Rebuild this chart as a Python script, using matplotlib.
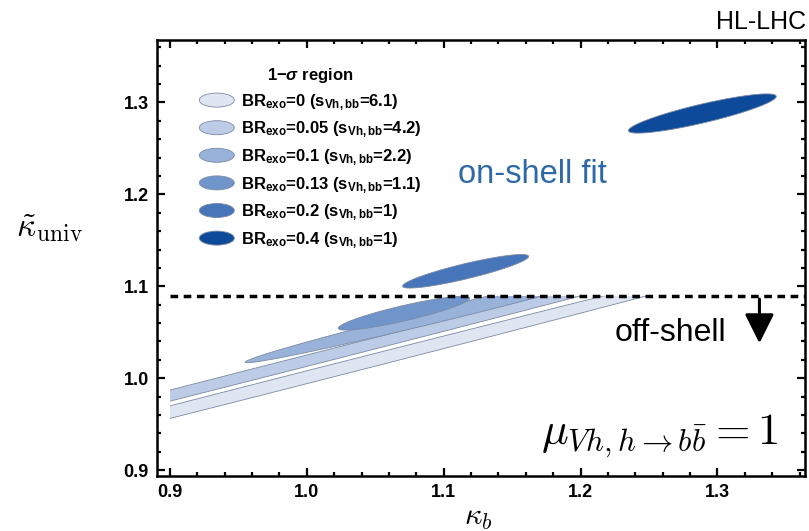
import numpy as np
import matplotlib
matplotlib.use("Agg")
import matplotlib.pyplot as plt
from matplotlib.patches import Ellipse, Patch, Rectangle
from matplotlib.legend_handler import HandlerPatch

plt.rcParams['font.family'] = 'Liberation Sans'
plt.rcParams['mathtext.fontset'] = 'custom'
plt.rcParams['mathtext.rm'] = 'Liberation Sans:bold'
plt.rcParams['mathtext.bf'] = 'Liberation Sans:bold'
plt.rcParams['mathtext.it'] = 'Liberation Sans:italic:bold'

# 1-sigma regions (sheared ellipses in the kappa_b / kappa_univ plane)
br_exo = ['0', '0.05', '0.1', '0.13', '0.2', '0.4']
s_vhbb = ['6.1', '4.2', '2.2', '1.1', '1', '1']
center_kb = [1.0, 1.0, 1.10, 1.071, 1.116, 1.289]
center_ku = [1.001, 1.019, 1.070, 1.0707, 1.1163, 1.288]
half_len = [0.45, 0.45, 0.145, 0.048, 0.046, 0.054]
slope = [0.38, 0.38, 0.363, 0.34, 0.351, 0.344]
half_thick = [0.007, 0.0062, 0.0078, 0.0085, 0.0085, 0.0105]
cut_offshell = [True, True, True, True, False, False]
colors = ['#dfe6f2', '#bccce6', '#98b2da', '#6f95cb', '#4775ba', '#0d4a9a']

offshell_line = 1.089
kb_min = 0.9


class HandlerEllipse(HandlerPatch):
    def create_artists(self, legend, orig_handle, xdescent, ydescent,
                       width, height, fontsize, trans):
        center = 0.5 * width - 0.5 * xdescent, 0.5 * height - 0.5 * ydescent
        p = Ellipse(xy=center, width=width, height=height * 1.1)
        self.update_prop(p, orig_handle, legend)
        p.set_transform(trans)
        return [p]


fig = plt.figure(figsize=(8.09, 5.31), dpi=100)
ax = fig.add_axes([157 / 809, 55 / 531, 648 / 809, 436 / 531])

t = np.linspace(0, 2 * np.pi, 300)
handles = []
labels = []
for i in range(len(br_exo)):
    x = center_kb[i] + half_len[i] * np.cos(t)
    y = center_ku[i] + slope[i] * half_len[i] * np.cos(t) + half_thick[i] * np.sin(t)
    patches = ax.fill(x, y, facecolor=colors[i], edgecolor='#7d8aa3', lw=0.6, zorder=2 + i)
    if cut_offshell[i]:
        clip = Rectangle((kb_min, 0.5), 1.0, offshell_line - 0.5, transform=ax.transData)
        for p in patches:
            p.set_clip_path(clip)
    handles.append(Patch(facecolor=colors[i], edgecolor='#7d8aa3', lw=0.6))
    labels.append(r'BR$_{\mathbf{exo}}$=' + br_exo[i] + r' (s$_{\mathbf{Vh,bb}}$=' + s_vhbb[i] + ')')

ax.plot([kb_min, 1.364], [offshell_line, offshell_line], color='black', lw=2.5,
        dashes=(2.2, 1.6), zorder=10)

leg = ax.legend(handles, labels, title=r'1$-\sigma$ region', loc='upper left',
                bbox_to_anchor=(0.055, 0.955), borderaxespad=0, frameon=False,
                handler_map={Patch: HandlerEllipse()}, handlelength=2.1,
                handleheight=0.8, labelspacing=0.42, handletextpad=0.4,
                prop={'weight': 'bold', 'size': 12},
                title_fontproperties={'weight': 'bold', 'size': 12})

ax.text(1.165, 1.2217, 'on-shell fit', color='#2d68a8', fontsize=23.5,
        ha='center', va='center')
ax.text(1.266, 1.049, 'off-shell', color='black', fontsize=23,
        ha='center', va='center')
ax.annotate('', xy=(1.3307, 1.035), xytext=(1.3307, offshell_line),
            arrowprops=dict(arrowstyle='-|>,head_length=0.6,head_width=0.3',
                            color='black', lw=2.2, mutation_scale=30), zorder=11)
ax.text(1.2577, 0.937, r'$\mu_{Vh,h\to b\bar{b}} = 1$', fontsize=32,
        ha='center', va='center', math_fontfamily='cm')

ax.set_xlim(0.8905, 1.364)
ax.set_ylim(0.8935, 1.368)
ax.set_xticks([0.9, 1.0, 1.1, 1.2, 1.3])
ax.set_yticks([0.9, 1.0, 1.1, 1.2, 1.3])
ax.set_xticks(np.arange(0.9, 1.365, 0.02), minor=True)
ax.set_yticks(np.arange(0.9, 1.365, 0.02), minor=True)
ax.tick_params(which='both', direction='in', top=True, right=True, width=1.6)
ax.tick_params(which='major', length=6, labelsize=13, pad=6)
ax.tick_params(which='minor', length=3)
for lab in ax.get_xticklabels() + ax.get_yticklabels():
    lab.set_fontweight('bold')
ax.tick_params(labelright=False, labeltop=False)
for s in ax.spines.values():
    s.set_linewidth(1.8)

fig.text(478 / 809, 1 - 517 / 531, r'$\kappa_b$', fontsize=22,
         ha='center', va='center', math_fontfamily='cm')
fig.text(49 / 809, 1 - 228 / 531, r'$\tilde{\kappa}_{\rm univ}$', fontsize=24,
         ha='center', va='center', math_fontfamily='cm')
fig.text(0.997, 1 - 22 / 531, 'HL-LHC', fontsize=18, ha='right', va='center')

fig.savefig('out.png', dpi=100)
